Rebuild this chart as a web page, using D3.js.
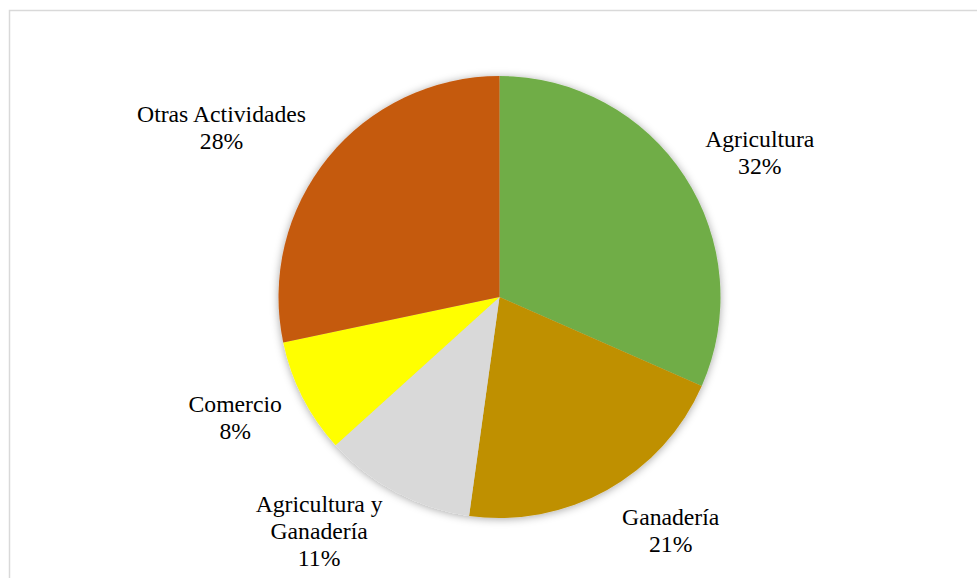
<!DOCTYPE html>
<html>
<head>
<meta charset="utf-8">
<script src="https://cdn.jsdelivr.net/npm/d3@7"></script>
<style>
  body { margin: 0; background: #fff; }
</style>
</head>
<body>
<div id="my_dataviz"></div>
<script>
// categories, share of each activity (%), and slice colours
var categories = ["Agricultura", "Ganadería", "Agricultura y Ganadería", "Comercio", "Otras Actividades"];
var values = [31.6, 20.6, 11.1, 8.4, 28.3];
var colors = ["#70AD47", "#BF9000", "#D9D9D9", "#FFFF00", "#C55A11"];
// how each label wraps
var labelLines = [["Agricultura"], ["Ganadería"], ["Agricultura y", "Ganadería"], ["Comercio"], ["Otras Actividades"]];

var width = 977, height = 578;
var cx = 499.5, cy = 297, radius = 221;
var labelRadius = 300;
// small shifts so labels sit like Excel's best-fit placement
var labelNudge = [[9, 19], [25, -29], [-40, -31], [3, -16], [-45, 19]];

var svg = d3.select("#my_dataviz")
    .append("svg")
    .attr("width", width)
    .attr("height", height);

// soft shadow round the pie
var defs = svg.append("defs");
var f = defs.append("filter").attr("id", "shadow")
    .attr("x", "-20%").attr("y", "-20%").attr("width", "140%").attr("height", "140%");
f.append("feDropShadow")
    .attr("dx", 0).attr("dy", 1)
    .attr("stdDeviation", 4)
    .attr("flood-color", "#000")
    .attr("flood-opacity", 0.35);

// chart area border
svg.append("rect")
    .attr("x", 9.5)
    .attr("y", 10.5)
    .attr("width", width + 20)
    .attr("height", height + 20)
    .attr("fill", "#fff")
    .attr("stroke", "#d9d9d9")
    .attr("stroke-width", 1.5);

var data = categories.map(function (c, i) { return { name: c, value: values[i], i: i }; });
var total = d3.sum(values);
var pct = d3.format(".0%");

var pie = d3.pie()
    .sort(null)
    .value(function (d) { return d.value; });

var arc = d3.arc().innerRadius(0).outerRadius(radius);
var labelArc = d3.arc().innerRadius(labelRadius).outerRadius(labelRadius);

var arcs = pie(data);

var g = svg.append("g")
    .attr("transform", "translate(" + cx + "," + cy + ")");

g.append("g")
    .attr("filter", "url(#shadow)")
    .selectAll("path")
    .data(arcs)
    .enter()
    .append("path")
    .attr("d", arc)
    .attr("fill", function (d) { return colors[d.data.i]; });

// labels: name lines + percentage
var fs = 23.7, lh = 27;
var labels = g.selectAll(".lbl")
    .data(arcs)
    .enter()
    .append("text")
    .attr("class", "lbl")
    .attr("font-family", "'Liberation Serif', Tinos, 'Times New Roman', 'DejaVu Serif', serif")
    .attr("font-size", fs)
    .attr("fill", "#000")
    .attr("text-anchor", "middle")
    .attr("transform", function (d) {
        var c = labelArc.centroid(d);
        var n = labelNudge[d.data.i];
        return "translate(" + (c[0] + n[0]) + "," + (c[1] + n[1]) + ")";
    });

labels.each(function (d) {
    var lines = labelLines[d.data.i].concat([pct(d.data.value / total)]);
    var t = d3.select(this);
    var y0 = -(lines.length - 1) * lh / 2 + 0.35 * fs;
    lines.forEach(function (s, k) {
        t.append("tspan")
            .attr("x", 0)
            .attr("y", y0 + k * lh)
            .text(s);
    });
});
</script>
</body>
</html>
